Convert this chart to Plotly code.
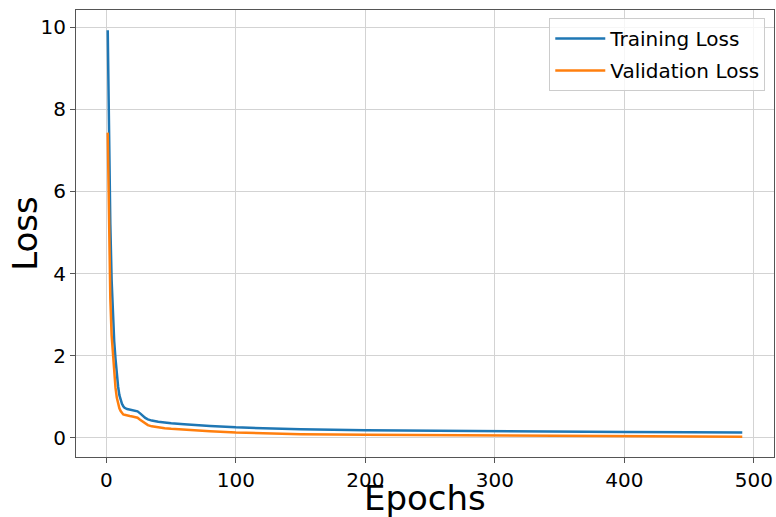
import plotly.graph_objects as go

# Loss curves recorded over training epochs (sampled at selected epochs)
epochs = [1, 2, 3, 4, 5, 6, 7, 8, 9, 10, 11, 12, 13, 14, 16, 18, 20, 22, 24, 26,
          28, 30, 32, 35, 40, 45, 50, 60, 70, 80, 100, 125, 150, 200, 250, 300,
          350, 400, 450, 491]

training_loss = [9.92, 7.20, 5.20, 3.85, 2.95, 2.35, 1.92, 1.55, 1.25, 1.04,
                 0.91, 0.83, 0.77, 0.73, 0.70, 0.685, 0.675, 0.665, 0.645, 0.595,
                 0.535, 0.485, 0.45, 0.42, 0.39, 0.37, 0.355, 0.33, 0.305, 0.29,
                 0.255, 0.225, 0.21, 0.185, 0.17, 0.155, 0.145, 0.14, 0.135, 0.13]

validation_loss = [7.43, 4.90, 3.40, 2.50, 1.98, 1.55, 1.22, 0.98, 0.83, 0.72,
                   0.65, 0.60, 0.57, 0.56, 0.54, 0.53, 0.52, 0.51, 0.49, 0.44,
                   0.39, 0.34, 0.31, 0.28, 0.25, 0.235, 0.22, 0.195, 0.175, 0.16,
                   0.13, 0.105, 0.09, 0.075, 0.065, 0.055, 0.045, 0.038, 0.032, 0.028]

x_ticks = [0, 100, 200, 300, 400, 500]
y_ticks = [0, 2, 4, 6, 8, 10]

FONT = "DejaVu Sans"

fig = go.Figure()
fig.add_trace(go.Scatter(x=epochs, y=training_loss, mode="lines", name="Training Loss",
                         legendgroup="train",
                         line=dict(color="#1f77b4", width=2.5)))
fig.add_trace(go.Scatter(x=epochs, y=validation_loss, mode="lines", name="Validation Loss",
                         legendgroup="val",
                         line=dict(color="#ff7f0e", width=2.5)))

# matplotlib-style 5% padding around the data
x_lo, x_hi = min(epochs), max(epochs)
x_pad = 0.05 * (x_hi - x_lo)
all_y = training_loss + validation_loss
y_lo, y_hi = min(all_y), max(all_y)
y_pad = 0.05 * (y_hi - y_lo)

axis_common = dict(
    showgrid=True, gridcolor="#d3d3d3", gridwidth=1,
    showline=True, linecolor="#555555", linewidth=1, mirror=True,
    ticks="outside", ticklen=5, tickcolor="#555555",
    tickfont=dict(family=FONT, size=20, color="black"),
    zeroline=False, automargin=False,
)

fig.update_layout(
    width=776, height=517,
    margin=dict(l=76, r=2, t=10, b=60),
    paper_bgcolor="white", plot_bgcolor="white",
    font=dict(family=FONT, color="black"),
    xaxis=dict(range=[x_lo - x_pad, x_hi + x_pad], tickvals=x_ticks, **axis_common),
    yaxis=dict(range=[y_lo - y_pad, y_hi + y_pad], tickvals=y_ticks, **axis_common),
    legend=dict(x=0.9875, y=0.982, xanchor="right", yanchor="top",
                bgcolor="rgba(255,255,255,0.8)", bordercolor="#cccccc", borderwidth=1,
                font=dict(family=FONT, size=20), itemwidth=50, tracegroupgap=3),
    showlegend=True,
)

# Axis titles placed in the margins below / left of the tick labels
fig.add_annotation(text="Epochs", xref="paper", yref="paper", x=0.5, y=-0.091,
                   xanchor="center", yanchor="middle", showarrow=False,
                   font=dict(family=FONT, size=34, color="black"))
fig.add_annotation(text="Loss", xref="paper", yref="paper", x=-0.074, y=0.5,
                   xanchor="center", yanchor="middle", textangle=-90, showarrow=False,
                   font=dict(family=FONT, size=34, color="black"))

fig.write_html("out.html")
